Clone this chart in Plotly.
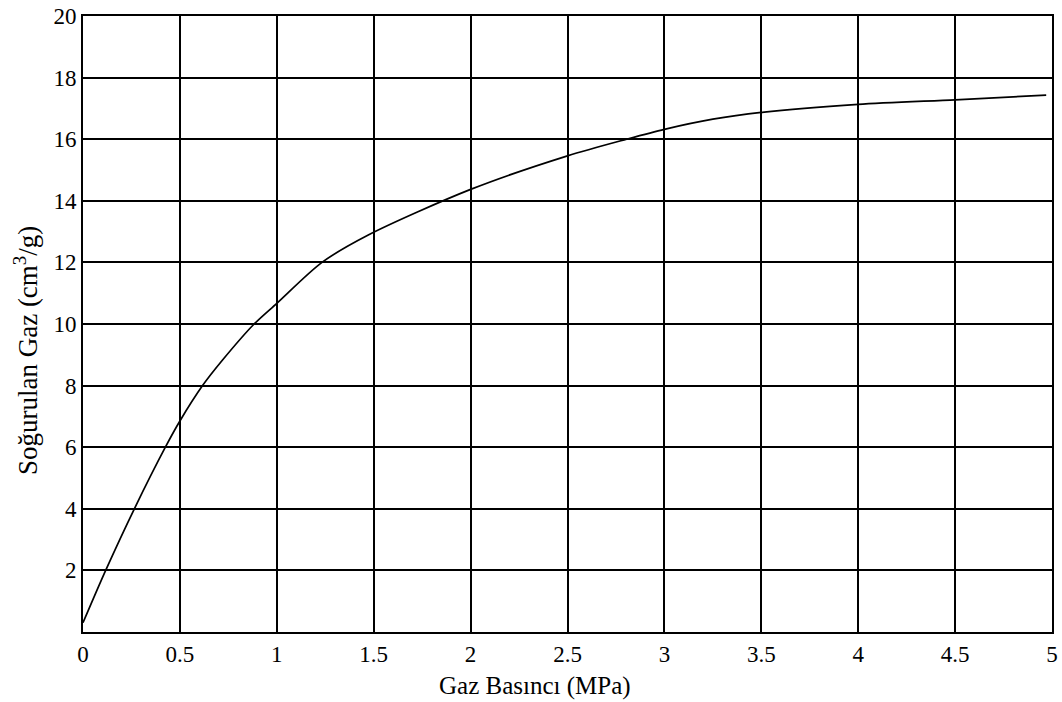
import plotly.graph_objects as go

pressure = [0.0, 0.117, 0.265, 0.425, 0.5, 0.617, 0.72, 0.883, 1.0, 1.233, 1.472, 2.0, 2.5, 2.805, 3.0, 3.25, 3.5, 4.0, 4.5, 4.97]
adsorbed = [0.3, 2.0, 4.0, 6.0, 6.85, 8.0, 8.83, 10.0, 10.67, 12.0, 12.89, 14.37, 15.46, 16.0, 16.32, 16.65, 16.87, 17.13, 17.28, 17.43]

x_ticks = [0, 0.5, 1, 1.5, 2, 2.5, 3, 3.5, 4, 4.5, 5]
x_labels = ["0", "0.5", "1", "1.5", "2", "2.5", "3", "3.5", "4", "4.5", "5"]
y_ticks = [2, 4, 6, 8, 10, 12, 14, 16, 18, 20]

x_title = "Gaz Basıncı (MPa)"
y_title = "Soğurulan Gaz (cm<sup>3</sup>/g)"

fig = go.Figure()
fig.add_trace(go.Scatter(x=pressure, y=adsorbed, mode="lines",
                         line=dict(color="black", width=1.7, shape="spline", smoothing=0.8),
                         showlegend=False, cliponaxis=False))

font = "Liberation Serif, Times New Roman, serif"
fig.update_layout(
    width=1062, height=702,
    margin=dict(l=83, r=4, t=10, b=70),
    paper_bgcolor="white", plot_bgcolor="white",
    font=dict(family=font, color="black", size=23),
    xaxis=dict(range=[0, 5], tickvals=x_ticks, ticktext=x_labels,
               showgrid=True, gridcolor="black", gridwidth=2,
               showline=True, linecolor="black", linewidth=2, mirror=True,
               ticks="", zeroline=False, tickfont=dict(size=23),
               ticklabeloverflow="allow"),
    yaxis=dict(range=[0, 20], tickvals=y_ticks,
               showgrid=True, gridcolor="black", gridwidth=2,
               showline=True, linecolor="black", linewidth=2, mirror=True,
               ticks="", zeroline=False, tickfont=dict(size=23),
               ticklabeloverflow="allow"),
    annotations=[
        dict(text=x_title, xref="paper", yref="paper", x=0.4667, y=-0.087,
             xanchor="center", yanchor="middle", showarrow=False,
             font=dict(size=25, family=font, color="black")),
        dict(text=y_title, xref="paper", yref="paper", x=-0.0595, y=0.4566,
             xanchor="center", yanchor="middle", textangle=-90, showarrow=False,
             font=dict(size=27, family=font, color="black")),
    ],
)

fig.write_html("out.html")
